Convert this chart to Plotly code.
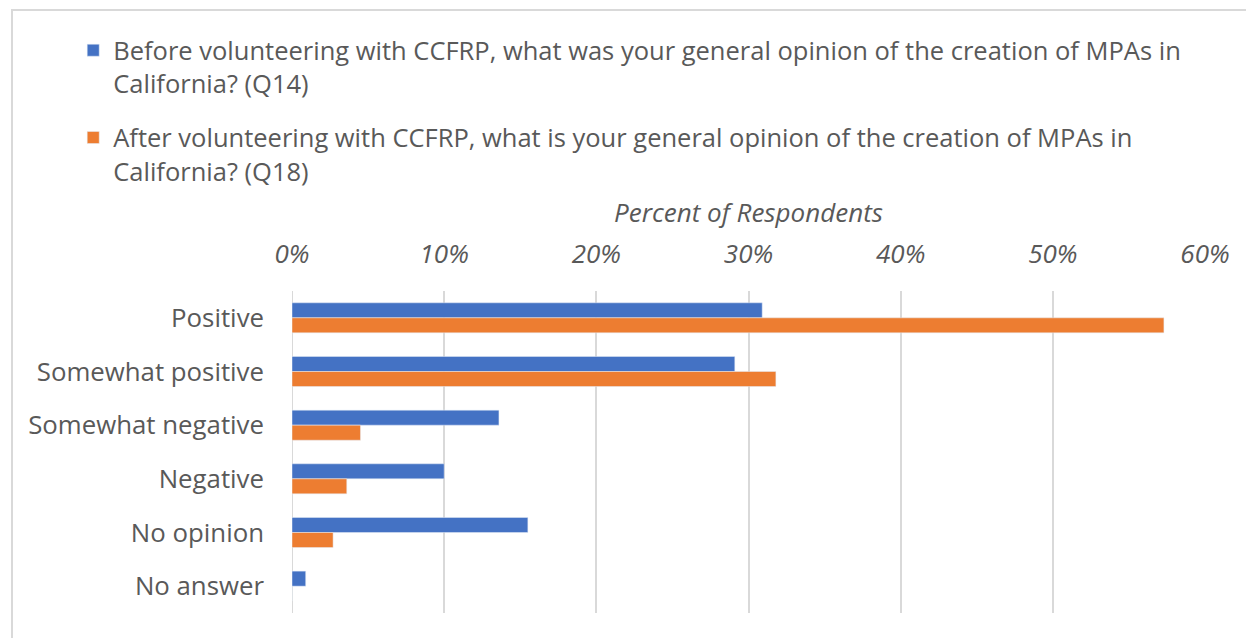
import plotly.graph_objects as go

categories = ["Positive", "Somewhat positive", "Somewhat negative", "Negative", "No opinion", "No answer"]
before_q14 = [30.9, 29.1, 13.6, 10.0, 15.5, 0.9]
after_q18 = [57.3, 31.8, 4.5, 3.6, 2.7, 0.0]
name_before = "Before volunteering with CCFRP, what was your general opinion of the creation of MPAs in<br>California? (Q14)"
name_after = "After volunteering with CCFRP, what is your general opinion of the creation of MPAs in<br>California? (Q18)"
tick_vals = [0, 10, 20, 30, 40, 50, 60]
tick_text = ["0%", "10%", "20%", "30%", "40%", "50%", "60%"]

fig = go.Figure()
fig.add_trace(go.Bar(y=categories, x=before_q14, orientation="h", name=name_before,
                     marker=dict(color="#4472C4"), legendgroup="a"))
fig.add_trace(go.Bar(y=categories, x=after_q18, orientation="h", name=name_after,
                     marker=dict(color="#ED7D31"), legendgroup="b"))

fig.update_layout(
    width=1254, height=638,
    margin=dict(l=284, r=57, t=283, b=33, autoexpand=False),
    paper_bgcolor="white", plot_bgcolor="white",
    barmode="group", bargap=0.44, bargroupgap=0,
    font=dict(family="Open Sans", color="#595959"),
    legend=dict(xref="container", yref="container", x=0.052, y=0.970,
                xanchor="left", yanchor="top", valign="top",
                font=dict(size=25.5, color="#595959", family="Open Sans"),
                tracegroupgap=18, itemwidth=30, bgcolor="rgba(0,0,0,0)"),
    xaxis=dict(side="top", range=[0, 60], tickvals=tick_vals, ticktext=tick_text,
               showgrid=True, gridcolor="#D9D9D9", gridwidth=2, zeroline=False,
               showline=False, ticks="", ticklabelstandoff=22, tickangle=0, automargin=False,
               tickfont=dict(size=26, family="Open Sans", style="italic", color="#595959"),
               title=dict(text="Percent of Respondents", standoff=4,
                          font=dict(size=26, family="Open Sans", style="italic", color="#595959"))),
    yaxis=dict(autorange="reversed", showgrid=False, showline=False, zeroline=False,
               ticks="", ticklabelstandoff=27, automargin=False,
               tickfont=dict(size=25.8, family="Open Sans", color="#595959")),
    shapes=[dict(type="rect", xref="paper", yref="paper",
                 x0=-0.3067, x1=1.07, y0=-0.2, y1=1.873,
                 line=dict(color="#D9D9D9", width=2), fillcolor="rgba(0,0,0,0)", layer="below"),
            dict(type="line", xref="x", yref="paper", x0=0, x1=0, y0=0, y1=1,
                 line=dict(color="#D9D9D9", width=2), layer="below")],
)

fig.write_html("out.html")
